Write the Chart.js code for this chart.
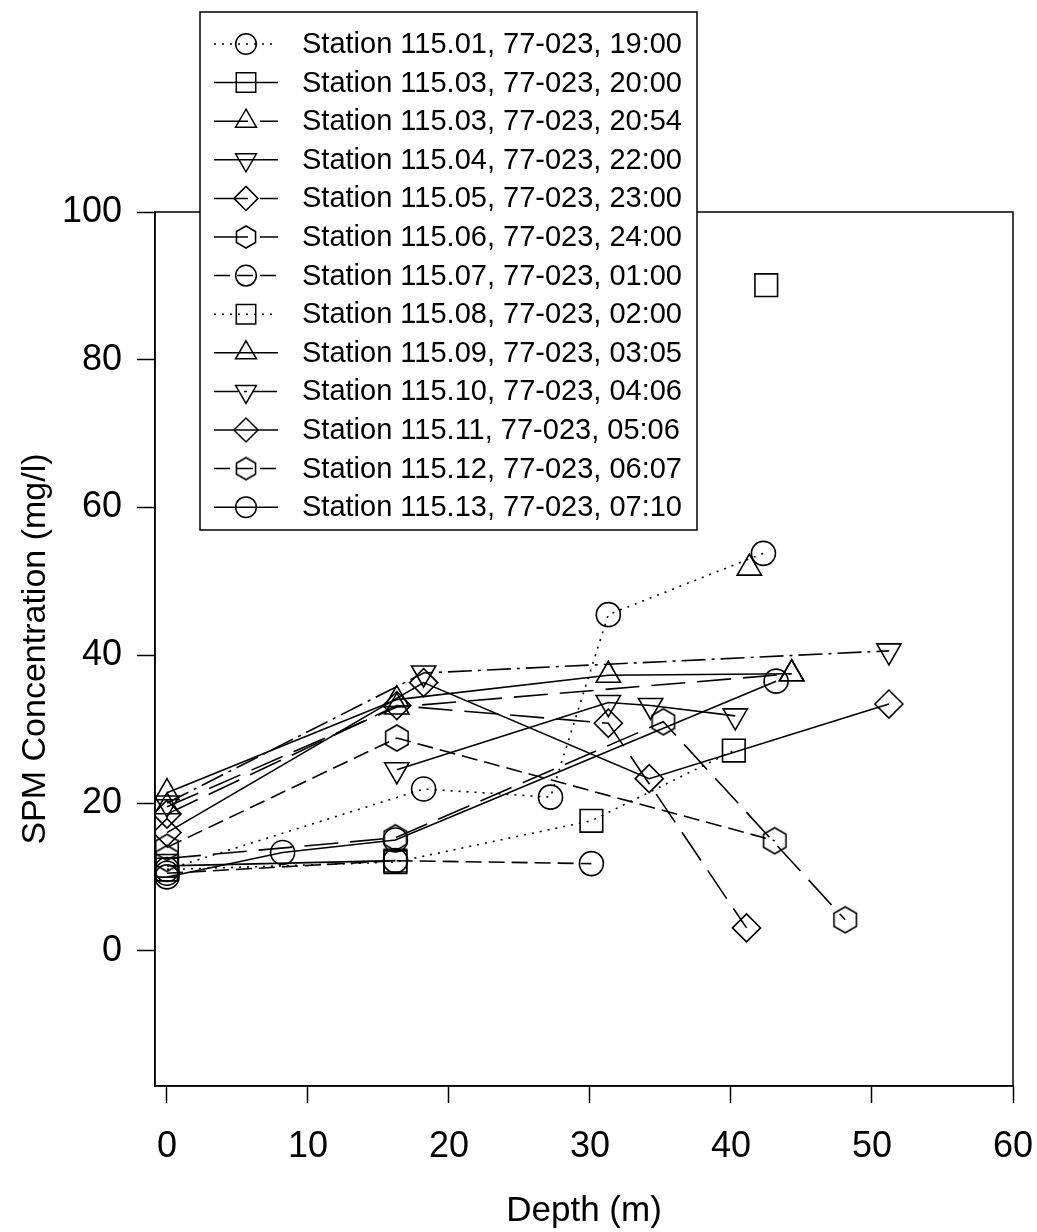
<!DOCTYPE html>
<html>
<head>
<meta charset="utf-8">
<script src="https://cdn.jsdelivr.net/npm/chart.js@4.4.0/dist/chart.umd.min.js"></script>
<style>
  body { margin: 0; background: #fff; }
  #wrap { width: 1037px; height: 1232px; }
</style>
</head>
<body>
<div id="wrap"><canvas id="spmChart"></canvas></div>
<script>
// 凡例ラベル
const stationLabels = [
  "Station 115.01, 77-023, 19:00",
  "Station 115.03, 77-023, 20:00",
  "Station 115.03, 77-023, 20:54",
  "Station 115.04, 77-023, 22:00",
  "Station 115.05, 77-023, 23:00",
  "Station 115.06, 77-023, 24:00",
  "Station 115.07, 77-023, 01:00",
  "Station 115.08, 77-023, 02:00",
  "Station 115.09, 77-023, 03:05",
  "Station 115.10, 77-023, 04:06",
  "Station 115.11, 77-023, 05:06",
  "Station 115.12, 77-023, 06:07",
  "Station 115.13, 77-023, 07:10"
];

// 深さ (m) と SPM濃度 (mg/l)、null は線の切れ目
const depth01 = [0, 18.2, 27.2, 31.3, 42.3];
const spm01   = [11.0, 21.9, 20.8, 45.5, 53.8];
const depth02 = [0, 16.2, null, 42.5];
const spm02   = [11.5, 12.2, null, 90.1];
const depth03 = [0, 16.3, 44.3];
const spm03   = [19.5, 33.0, 37.5];
const depth04 = [16.3, 31.3, 34.3, 40.3];
const spm04   = [24.5, 33.6, 33.2, 31.8];
const depth05 = [0, 16.3, 31.3, 41.1];
const spm05   = [18.5, 33.2, 30.8, 3.1];
const depth06 = [0, 16.2, 35.2, 48.1];
const spm06   = [12.5, 15.3, 31.0, 4.2];
const depth07 = [0, 16.2, 30.1];
const spm07   = [10.5, 12.2, 11.8];
const depth08 = [0, 16.2, 30.1, 40.2];
const spm08   = [11.0, 12.0, 17.6, 27.1];
const depth09 = [0, 16.3, 31.3, 44.3, null, 41.3];
const spm09   = [21.4, 34.0, 37.3, 37.5, null, 51.8];
const depth10 = [0, 18.2, 51.2];
const spm10   = [20.0, 37.6, 40.6];
const depth11 = [0, 18.2, 34.2, 51.2];
const spm11   = [16.0, 36.3, 23.3, 33.4];
const depth12 = [0, 16.3, 43.1];
const spm12   = [14.0, 28.8, 14.9];
const depth13 = [0, 8.2, 16.2, 43.2];
const spm13   = [10.0, 13.3, 15.0, 36.5];

const xTicks = [0, 10, 20, 30, 40, 50, 60];
const yTicks = [0, 20, 40, 60, 80, 100];

// 六角形マーカー
function hexImage(r) {
  const s = Math.ceil(r * 2 + 4);
  const c = document.createElement("canvas");
  c.width = s; c.height = s;
  const g = c.getContext("2d");
  g.strokeStyle = "#000";
  g.lineWidth = 1.6;
  g.beginPath();
  for (let i = 0; i < 6; i++) {
    const a = Math.PI / 2 + i * Math.PI / 3;
    const px = s / 2 + r * Math.cos(a), py = s / 2 + r * Math.sin(a);
    if (i === 0) g.moveTo(px, py); else g.lineTo(px, py);
  }
  g.closePath();
  g.stroke();
  return c;
}
const hexBig = hexImage(13);
const hexSmall = hexImage(11);

// 線種
const DOT = [2, 6], SOLID = [], LONG = [34, 12], DASH = [16, 7], DASHDOT = [24, 6, 3, 6];

function pts(xs, ys) {
  return xs.map((x, i) => ({ x: x, y: ys[i] }));
}

// 系列ごとのスタイル
const styles = [
  { d: pts(depth01, spm01), dash: DOT,     shape: "circle",   r: 12, rot: 0 },
  { d: pts(depth02, spm02), dash: SOLID,   shape: "rect",     r: 16, rot: 0 },
  { d: pts(depth03, spm03), dash: LONG,    shape: "triangle", r: 14, rot: 0 },
  { d: pts(depth04, spm04), dash: SOLID,   shape: "triangle", r: 14, rot: 180 },
  { d: pts(depth05, spm05), dash: LONG,    shape: "rectRot",  r: 14, rot: 0 },
  { d: pts(depth06, spm06), dash: LONG,    shape: hexBig,     r: 13, rot: 0 },
  { d: pts(depth07, spm07), dash: DASH,    shape: "circle",   r: 12, rot: 0 },
  { d: pts(depth08, spm08), dash: DOT,     shape: "rect",     r: 16, rot: 0 },
  { d: pts(depth09, spm09), dash: SOLID,   shape: "triangle", r: 14, rot: 0 },
  { d: pts(depth10, spm10), dash: DASHDOT, shape: "triangle", r: 14, rot: 180 },
  { d: pts(depth11, spm11), dash: SOLID,   shape: "rectRot",  r: 14, rot: 0 },
  { d: pts(depth12, spm12), dash: DASH,    shape: hexBig,     r: 13, rot: 0 },
  { d: pts(depth13, spm13), dash: SOLID,   shape: "circle",   r: 12, rot: 0 }
];

const datasets = styles.map((s, i) => ({
  label: stationLabels[i],
  data: s.d,
  borderColor: "#000",
  borderWidth: 1.6,
  borderDash: s.dash,
  backgroundColor: "rgba(0,0,0,0)",
  pointStyle: s.shape,
  pointRadius: s.r,
  pointRotation: s.rot,
  pointBorderColor: "#000",
  pointBorderWidth: 1.6,
  pointBackgroundColor: "rgba(0,0,0,0)",
  fill: false,
  tension: 0,
  spanGaps: false
}));

// 枠線と凡例
const framePlugin = {
  id: "frame",
  afterDatasetsDraw(chart) {
    const { ctx, chartArea: a } = chart;
    ctx.save();
    ctx.strokeStyle = "#000";
    ctx.lineWidth = 1.5;
    ctx.strokeRect(a.left, a.top, a.right - a.left, a.bottom - a.top);

    // 凡例ボックス
    const bx = 200, by = 12, bw = 497, bh = 518;
    ctx.fillStyle = "#fff";
    ctx.fillRect(bx, by, bw, bh);
    ctx.strokeRect(bx, by, bw, bh);
    ctx.font = "29px 'Liberation Sans', Arial, sans-serif";
    ctx.textBaseline = "middle";
    styles.forEach((s, i) => {
      const y = 44 + i * 38.6;
      ctx.setLineDash(s.dash);
      ctx.lineWidth = 1.5;
      ctx.beginPath();
      ctx.moveTo(214, y);
      ctx.lineTo(278, y);
      ctx.stroke();
      ctx.setLineDash([]);
      ctx.fillStyle = "rgba(0,0,0,0)";
      const small = s.shape === hexBig ? hexSmall : s.shape;
      Chart.helpers.drawPoint(ctx, {
        pointStyle: small, rotation: s.rot, radius: s.r * 0.86, borderWidth: 1.5
      }, 246, y);
      ctx.fillStyle = "#000";
      ctx.fillText(stationLabels[i], 302, y + 1);
    });
    ctx.restore();
  }
};

new Chart(document.getElementById("spmChart"), {
  type: "line",
  data: { datasets: datasets },
  plugins: [framePlugin],
  options: {
    responsive: true,
    maintainAspectRatio: false,
    animation: false,
    layout: { padding: { left: 0, top: 212, right: 24, bottom: 0 } },
    plugins: { legend: { display: false }, tooltip: { enabled: false } },
    scales: {
      x: {
        type: "linear",
        min: -0.85,
        max: 60,
        afterBuildTicks: sc => { sc.ticks = xTicks.map(v => ({ value: v })); },
        afterFit: sc => { sc.height = 146; sc.paddingLeft = 0; sc.paddingRight = 0; },
        grid: { drawOnChartArea: false, color: "#000", tickLength: 17, tickWidth: 1.5 },
        border: { color: "#000", width: 1.5 },
        ticks: { color: "#000", padding: 22, maxRotation: 0, font: { family: "'Liberation Sans', Arial", size: 36 } },
        title: { display: true, text: "Depth (m)", color: "#000", padding: { top: 0, bottom: 0 }, font: { family: "'Liberation Sans', Arial", size: 35 } }
      },
      y: {
        type: "linear",
        min: -18.3,
        max: 100,
        afterBuildTicks: sc => { sc.ticks = yTicks.map(v => ({ value: v })); },
        afterFit: sc => { sc.width = 155; sc.paddingTop = 0; sc.paddingBottom = 0; },
        grid: { drawOnChartArea: false, color: "#000", tickLength: 18, tickWidth: 1.5 },
        border: { color: "#000", width: 1.5 },
        ticks: { color: "#000", padding: 15, font: { family: "'Liberation Sans', Arial", size: 36 } },
        title: { display: true, text: "SPM Concentration (mg/l)", color: "#000", padding: { top: 15, bottom: 0 }, font: { family: "'Liberation Sans', Arial", size: 34 } }
      }
    }
  }
});
</script>
</body>
</html>
